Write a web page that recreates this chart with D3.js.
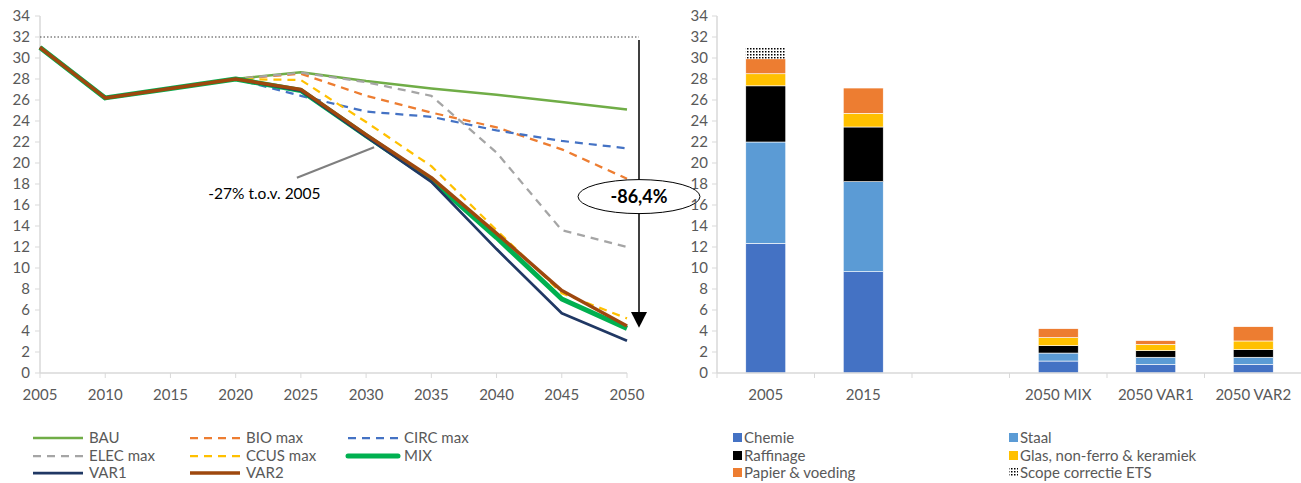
<!DOCTYPE html>
<html>
<head>
<meta charset="utf-8">
<script src="https://cdn.jsdelivr.net/npm/d3@7"></script>
<style>
  body { margin: 0; background: #fff; }
  svg text { font-family: Lato, "Open Sans", sans-serif; }
</style>
</head>
<body>
<svg id="chart" width="1301" height="483"></svg>
<script>
// ---- data: line chart (Mton CO2, industrie scenario's) ----
var years = [2005, 2010, 2015, 2020, 2025, 2030, 2035, 2040, 2045, 2050]
var bau  = [31.0, 26.2, 27.1, 28.0, 28.65, 27.8, 27.1, 26.5, 25.8, 25.1]
var bio  = [31.0, 26.2, 27.1, 28.0, 28.5, 26.4, 24.8, 23.4, 21.3, 18.5]
var circ = [31.0, 26.2, 27.1, 28.0, 26.4, 24.9, 24.4, 23.1, 22.1, 21.4]
var elec = [31.0, 26.2, 27.1, 28.0, 28.6, 27.7, 26.4, 21.0, 13.6, 12.0]
var ccus = [31.0, 26.2, 27.1, 28.0, 27.9, 23.9, 19.7, 13.6, 7.6, 5.2]
var mix  = [31.0, 26.2, 27.1, 28.0, 26.9, 22.6, 18.4, 12.9, 7.05, 4.25]
var var1 = [31.0, 26.2, 27.1, 28.0, 26.9, 22.5, 18.2, 11.8, 5.7, 3.08]
var var2 = [31.0, 26.2, 27.1, 28.0, 27.0, 22.7, 18.6, 13.3, 7.85, 4.48]
var lineTicksX = [2005, 2010, 2015, 2020, 2025, 2030, 2035, 2040, 2045, 2050]
var yTicks = [0, 2, 4, 6, 8, 10, 12, 14, 16, 18, 20, 22, 24, 26, 28, 30, 32, 34]
var refLevel = 32
var reductionLabel = '-86,4%'
var noteLabel = '-27% t.o.v. 2005'

// ---- data: stacked bars per sector ----
var barCats   = ['2005', '2015', '', '2050 MIX', '2050 VAR1', '2050 VAR2']
var chemie    = [12.35, 9.65, 0, 1.14, 0.83, 0.83]
var staal     = [9.65, 8.57, 0, 0.76, 0.67, 0.67]
var raffinage = [5.35, 5.21, 0, 0.70, 0.63, 0.72]
var glas      = [1.15, 1.30, 0, 0.77, 0.60, 0.83]
var papier    = [1.42, 2.41, 0, 0.85, 0.35, 1.36]
var scope     = [1.10, 0, 0, 0, 0, 0]

var svg = d3.select('#chart')
var axisColor = '#d9d9d9', textColor = '#595959'
var tickSize = 15, legSize = 15

// dotted pattern for "Scope correctie ETS"
var defs = svg.append('defs')
var pat = defs.append('pattern').attr('id', 'dots')
  .attr('width', 3).attr('height', 3).attr('patternUnits', 'userSpaceOnUse')
pat.append('rect').attr('width', 3).attr('height', 3).attr('fill', '#fff')
pat.append('rect').attr('width', 1.5).attr('height', 1.5).attr('fill', '#000')

// ============ LEFT: line chart ============
var x = d3.scaleLinear().domain([2005, 2050]).range([40, 627])
var y = d3.scaleLinear().domain([0, 34]).range([373, 16])

var left = svg.append('g')
left.append('line').attr('x1', x(2005)).attr('x2', x(2005)).attr('y1', y(0)).attr('y2', y(34))
  .attr('stroke', axisColor).attr('stroke-width', 1.5)
left.append('line').attr('x1', x(2005)).attr('x2', x(2050)).attr('y1', y(0)).attr('y2', y(0))
  .attr('stroke', axisColor).attr('stroke-width', 1.5)
left.selectAll('.yt').data(yTicks).enter().append('line')
  .attr('x1', x(2005) - 5).attr('x2', x(2005)).attr('y1', y).attr('y2', y)
  .attr('stroke', axisColor)
left.selectAll('.yl').data(yTicks).enter().append('text')
  .attr('x', x(2005) - 10).attr('y', function(d){ return y(d) + 5 })
  .attr('text-anchor', 'end').attr('font-size', tickSize).attr('fill', textColor).text(function(d){ return d })
left.selectAll('.xt').data(lineTicksX).enter().append('line')
  .attr('x1', x).attr('x2', x).attr('y1', y(0)).attr('y2', y(0) + 5)
  .attr('stroke', axisColor)
left.selectAll('.xl').data(lineTicksX).enter().append('text')
  .attr('x', x).attr('y', y(0) + 27)
  .attr('text-anchor', 'middle').attr('font-size', tickSize).attr('fill', textColor).text(function(d){ return d })

var series = [
  {name: 'BAU',       vals: bau,  color: '#70ad47', w: 2.5, dash: null},
  {name: 'BIO max',   vals: bio,  color: '#ed7d31', w: 2.25, dash: '8,6'},
  {name: 'CIRC max',  vals: circ, color: '#4472c4', w: 2.25, dash: '8,6'},
  {name: 'ELEC max',  vals: elec, color: '#a5a5a5', w: 2.25, dash: '8,6'},
  {name: 'CCUS max',  vals: ccus, color: '#ffc000', w: 2.25, dash: '8,6'},
  {name: 'MIX',       vals: mix,  color: '#00b050', w: 5, dash: null},
  {name: 'VAR1',      vals: var1, color: '#203864', w: 2.75, dash: null},
  {name: 'VAR2',      vals: var2, color: '#9e480e', w: 3.5, dash: null}
]

var line = d3.line()
  .x(function(d, i){ return x(years[i]) })
  .y(function(d){ return y(d) })

series.forEach(function(s){
  left.append('path').attr('d', line(s.vals))
    .attr('fill', 'none').attr('stroke', s.color).attr('stroke-width', s.w)
    .attr('stroke-dasharray', s.dash).attr('stroke-linejoin', 'round')
})

// reference level + arrow
var arrowX = x(2050) + 12
left.append('line').attr('x1', x(2005)).attr('x2', arrowX).attr('y1', y(refLevel)).attr('y2', y(refLevel))
  .attr('stroke', '#404040').attr('stroke-width', 1).attr('stroke-dasharray', '1.5,2')
left.append('line').attr('x1', arrowX).attr('x2', arrowX).attr('y1', y(refLevel) + 3).attr('y2', y(5.5))
  .attr('stroke', '#404040').attr('stroke-width', 2)
left.append('path')
  .attr('d', 'M' + (arrowX - 8) + ',' + y(5.8) + 'L' + (arrowX + 8) + ',' + y(5.8) + 'L' + arrowX + ',' + y(4.3) + 'Z')
  .attr('fill', '#000')
left.append('ellipse').attr('cx', arrowX).attr('cy', y(16.8)).attr('rx', 61).attr('ry', 17)
  .attr('fill', '#fff').attr('stroke', '#000').attr('stroke-width', 1)
left.append('text').attr('x', arrowX).attr('y', y(16.8) + 6)
  .attr('text-anchor', 'middle').attr('font-size', 18).attr('font-weight', 700).attr('fill', '#000')
  .text(reductionLabel)

// -27% note with leader
left.append('line').attr('x1', x(2025) - 4).attr('y1', y(18.6))
  .attr('x2', x(2030) + 8).attr('y2', y(21.5))
  .attr('stroke', '#7f7f7f').attr('stroke-width', 2)
left.append('text').attr('x', x(2017.9)).attr('y', y(16.9) + 3)
  .attr('text-anchor', 'start').attr('font-size', 15.5).attr('fill', '#000').text(noteLabel)

// left legend
var legRows = [438, 456, 473]
var legCols = [33, 190, 348]
series.forEach(function(s, i){
  var cx = legCols[i % 3], cy = legRows[Math.floor(i / 3)]
  svg.append('line').attr('x1', cx).attr('x2', cx + 50).attr('y1', cy).attr('y2', cy)
    .attr('stroke', s.color).attr('stroke-width', s.w).attr('stroke-dasharray', s.dash)
    .attr('stroke-linecap', s.name == 'MIX' ? 'round' : 'butt')
  svg.append('text').attr('x', cx + 56).attr('y', cy + 5)
    .attr('font-size', legSize).attr('fill', textColor).text(s.name)
})

// ============ RIGHT: stacked bars ============
var xb = d3.scaleBand().domain(barCats).range([717, 1302]).paddingInner(0.59).paddingOuter(0.295)
var yb = d3.scaleLinear().domain([0, 34]).range([373, 16])

var sectors = [
  {name: 'Chemie', vals: chemie, fill: '#4472c4'},
  {name: 'Staal', vals: staal, fill: '#5b9bd5'},
  {name: 'Raffinage', vals: raffinage, fill: '#000000'},
  {name: 'Glas, non-ferro & keramiek', vals: glas, fill: '#ffc000'},
  {name: 'Papier & voeding', vals: papier, fill: '#ed7d31'},
  {name: 'Scope correctie ETS', vals: scope, fill: 'url(#dots)'}
]
var rows = barCats.map(function(c, i){
  var r = {cat: c}
  sectors.forEach(function(s){ r[s.name] = s.vals[i] })
  return r
})
var stacked = d3.stack().keys(sectors.map(function(s){ return s.name }))(rows)

var right = svg.append('g')
stacked.forEach(function(layer, li){
  right.selectAll('.b' + li).data(layer).enter().append('rect')
    .attr('x', function(d){ return xb(d.data.cat) })
    .attr('width', xb.bandwidth())
    .attr('y', function(d){ return yb(d[1]) })
    .attr('height', function(d){ return Math.max(0, yb(d[0]) - yb(d[1])) })
    .attr('fill', sectors[li].fill)
    .attr('stroke', li == 5 ? 'none' : '#fff').attr('stroke-width', 0.6)
})

right.append('line').attr('x1', 717).attr('x2', 717).attr('y1', yb(0)).attr('y2', yb(34))
  .attr('stroke', axisColor).attr('stroke-width', 1.5)
right.append('line').attr('x1', 717).attr('x2', 1302).attr('y1', yb(0)).attr('y2', yb(0))
  .attr('stroke', axisColor).attr('stroke-width', 1.5)
right.selectAll('.yt').data(yTicks).enter().append('line')
  .attr('x1', 712).attr('x2', 717).attr('y1', yb).attr('y2', yb).attr('stroke', axisColor)
right.selectAll('.yl').data(yTicks).enter().append('text')
  .attr('x', 708).attr('y', function(d){ return yb(d) + 5 })
  .attr('text-anchor', 'end').attr('font-size', tickSize).attr('fill', textColor).text(function(d){ return d })
right.selectAll('.xt').data(barCats).enter().append('line')
  .attr('x1', function(d){ return xb(d) - (xb.step() - xb.bandwidth()) / 2 })
  .attr('x2', function(d){ return xb(d) - (xb.step() - xb.bandwidth()) / 2 })
  .attr('y1', yb(0)).attr('y2', yb(0) + 5).attr('stroke', axisColor)
right.selectAll('.xl').data(barCats).enter().append('text')
  .attr('x', function(d){ return xb(d) + xb.bandwidth() / 2 }).attr('y', yb(0) + 27)
  .attr('text-anchor', 'middle').attr('font-size', tickSize).attr('fill', textColor).text(function(d){ return d })

// right legend
var bCols = [733, 1009]
sectors.forEach(function(s, i){
  var cx = bCols[i % 2], cy = legRows[Math.floor(i / 2)]
  svg.append('rect').attr('x', cx).attr('y', cy - 5).attr('width', 9).attr('height', 9)
    .attr('fill', s.fill)
  svg.append('text').attr('x', cx + 11).attr('y', cy + 5)
    .attr('font-size', legSize).attr('fill', textColor).text(s.name)
})
</script>
</body>
</html>
